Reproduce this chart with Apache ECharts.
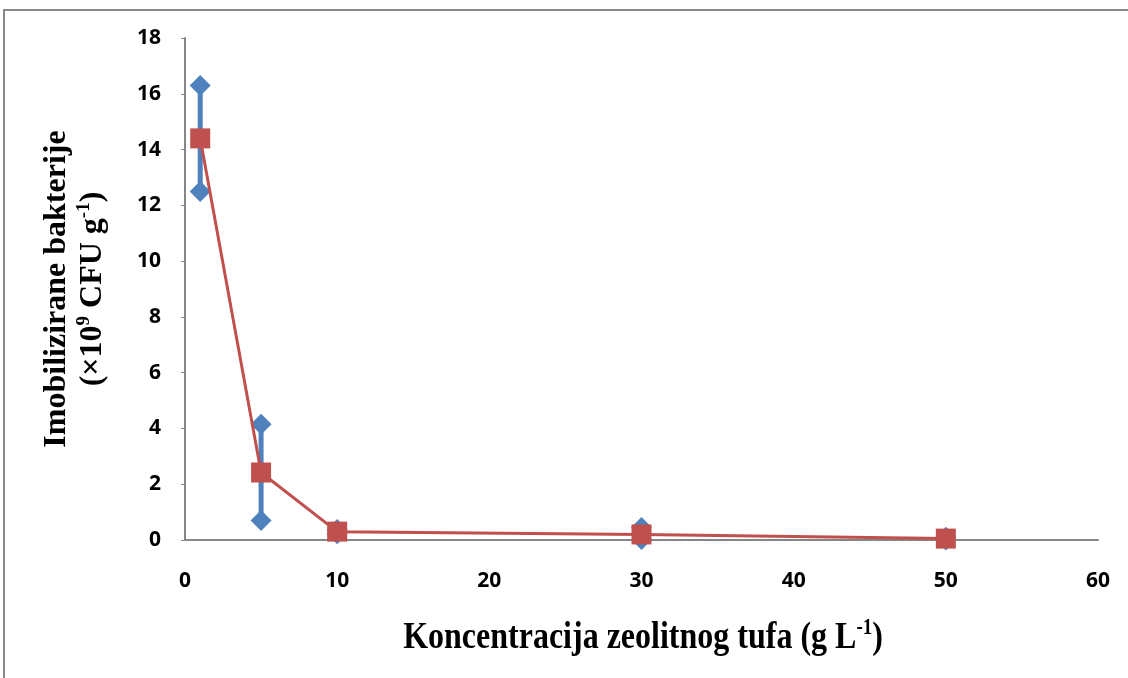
<!DOCTYPE html>
<html>
<head>
<meta charset="utf-8">
<script src="https://cdn.jsdelivr.net/npm/echarts@6/dist/echarts.min.js"></script>
<style>html,body{margin:0;padding:0;background:#fff}#c{width:1128px;height:678px}</style>
</head>
<body>
<div id="c"></div>
<script>
var xValues = [1, 5, 10, 30, 50];
var highValues = [16.3, 4.15, 0.38, 0.45, 0.1];
var lowValues = [12.5, 0.7, 0.22, 0.02, 0.0];
var meanValues = [14.4, 2.42, 0.3, 0.2, 0.05];
var xTicks = [0, 10, 20, 30, 40, 50, 60];
var yTicks = [0, 2, 4, 6, 8, 10, 12, 14, 16, 18];

var chart = echarts.init(document.getElementById('c'));
var blue = '#4F81BD', red = '#C0504D';
var rangeData = xValues.map(function (x, i) { return [x, lowValues[i], highValues[i]]; });
var diamonds = [];
xValues.forEach(function (x, i) { diamonds.push([x, highValues[i]]); diamonds.push([x, lowValues[i]]); });
var mean = xValues.map(function (x, i) { return [x, meanValues[i]]; });

var serifRich = {
  a: { fontFamily: 'Liberation Serif', fontWeight: 'bold', fontSize: 32, fill: '#000', color: '#000', lineHeight: 36 },
  s: { fontFamily: 'Liberation Serif', fontWeight: 'bold', fontSize: 19, fill: '#000', color: '#000', verticalAlign: 'top', lineHeight: 36, padding: [0, 0, 14, 0] }
};

chart.setOption({
  animation: false,
  backgroundColor: '#fff',
  graphic: [{
    type: 'rect', shape: { x: 4, y: 10, width: 1200, height: 800 },
    style: { fill: 'none', stroke: '#878787', lineWidth: 2 }, silent: true, z: -1
  }, {
    type: 'text', x: 643, y: 638, scaleY: 1.2, silent: true,
    style: {
      text: '{a|Koncentracija zeolitnog tufa (g L}{s|-1}{a|)}',
      rich: serifRich, align: 'center', verticalAlign: 'middle'
    }
  }],
  grid: { left: 185, right: 30, top: 38, bottom: 138, containLabel: false },
  xAxis: {
    type: 'value', min: xTicks[0], max: xTicks[xTicks.length - 1], interval: 10,
    axisLine: { lineStyle: { color: '#868686', width: 2 } },
    axisTick: { show: false },
    splitLine: { show: false },
    axisLabel: { color: '#000', fontWeight: 'bold', fontSize: 21, fontFamily: 'Open Sans', margin: 31 }
  },
  yAxis: {
    type: 'value', min: yTicks[0], max: yTicks[yTicks.length - 1], interval: 2,
    axisLine: { show: true, lineStyle: { color: '#868686', width: 2 } },
    axisTick: { show: true, inside: false, length: 4, lineStyle: { color: '#868686' } },
    splitLine: { show: false },
    axisLabel: { color: '#000', fontWeight: 'bold', fontSize: 21, fontFamily: 'Open Sans', margin: 24 },
    name: '{a|Imobilizirane bakterije}\n{a|(×10}{s|9}{a| CFU g}{s|-1}{a|)}',
    nameLocation: 'middle', nameGap: 74, nameRotate: 90,
    nameTextStyle: { rich: serifRich }
  },
  series: [
    {
      type: 'custom', data: rangeData, z: 2,
      renderItem: function (params, api) {
        var p1 = api.coord([api.value(0), api.value(1)]);
        var p2 = api.coord([api.value(0), api.value(2)]);
        return { type: 'line', shape: { x1: p1[0], y1: p1[1], x2: p2[0], y2: p2[1] }, style: { stroke: blue, lineWidth: 5 } };
      },
      encode: { x: 0, y: [1, 2] }
    },
    {
      type: 'scatter', data: diamonds, symbol: 'diamond', symbolSize: 21, z: 3,
      itemStyle: { color: blue, opacity: 1 }
    },
    {
      type: 'line', data: mean, symbol: 'rect', symbolSize: 20, z: 4,
      lineStyle: { color: red, width: 3 }, itemStyle: { color: red, opacity: 1 }
    }
  ]
});
</script>
</body>
</html>
